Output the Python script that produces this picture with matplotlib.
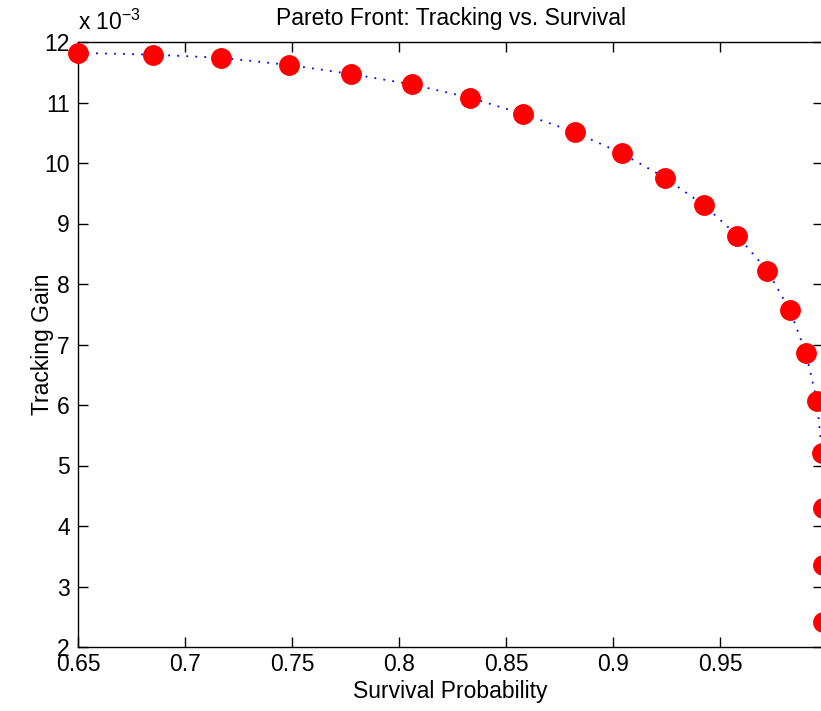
"""Pareto front of tracking gain against survival probability"""
import matplotlib
matplotlib.use("Agg")
import matplotlib.pyplot as plt

# survival probability and tracking gain (units of 1e-3)
survival = [0.650, 0.685, 0.717, 0.7487, 0.7777, 0.8058, 0.833, 0.858, 0.882,
            0.904, 0.924, 0.9425, 0.958, 0.972, 0.9825, 0.990, 0.9952,
            0.9975, 0.998, 0.998, 0.998]
gain = [11.82, 11.79, 11.74, 11.62, 11.47, 11.30, 11.08, 10.81, 10.51,
        10.16, 9.76, 9.30, 8.80, 8.22, 7.57, 6.86, 6.06,
        5.20, 4.29, 3.36, 2.42]
xticks = [0.65, 0.7, 0.75, 0.8, 0.85, 0.9, 0.95]
yticks = list(range(2, 13))

plt.rcParams['font.family'] = ['Liberation Sans', 'DejaVu Sans']
plt.rcParams['mathtext.fontset'] = 'custom'
plt.rcParams['mathtext.rm'] = 'Liberation Sans'
FS = 16.5

fig = plt.figure(figsize=(8.21, 7.11), dpi=100)
ax = fig.add_axes([78 / 821, 1 - 647 / 711, (823 - 78) / 821, (647 - 42) / 711])

ax.plot(survival, gain, color='b', lw=1.3, ls=(0, (1, 4)), zorder=2)
ax.plot(survival, gain, 'o', color='r', ms=14, mec='r', zorder=3, clip_on=False)

ax.set_xlim(0.65, 0.998)
ax.set_ylim(2, 12)
ax.set_xticks(xticks)
ax.set_xticklabels([f"{t:g}" for t in xticks])
ax.set_yticks(yticks)
ax.tick_params(direction='in', top=True, right=True, length=7, width=1,
               labelsize=FS, pad=4)
ax.tick_params(axis='y', pad=6)
for s in ax.spines.values():
    s.set_linewidth(1)

ax.set_xlabel("Survival Probability", fontsize=FS, labelpad=3)
ax.set_ylabel("Tracking Gain", fontsize=FS, labelpad=-7)
ax.set_title("Pareto Front: Tracking vs. Survival", fontsize=FS, pad=12)
ax.text(0.0, 1.012, r"x 10$^{-3}$", transform=ax.transAxes, fontsize=FS,
        ha='left', va='bottom')

fig.savefig("out.png", dpi=100)
